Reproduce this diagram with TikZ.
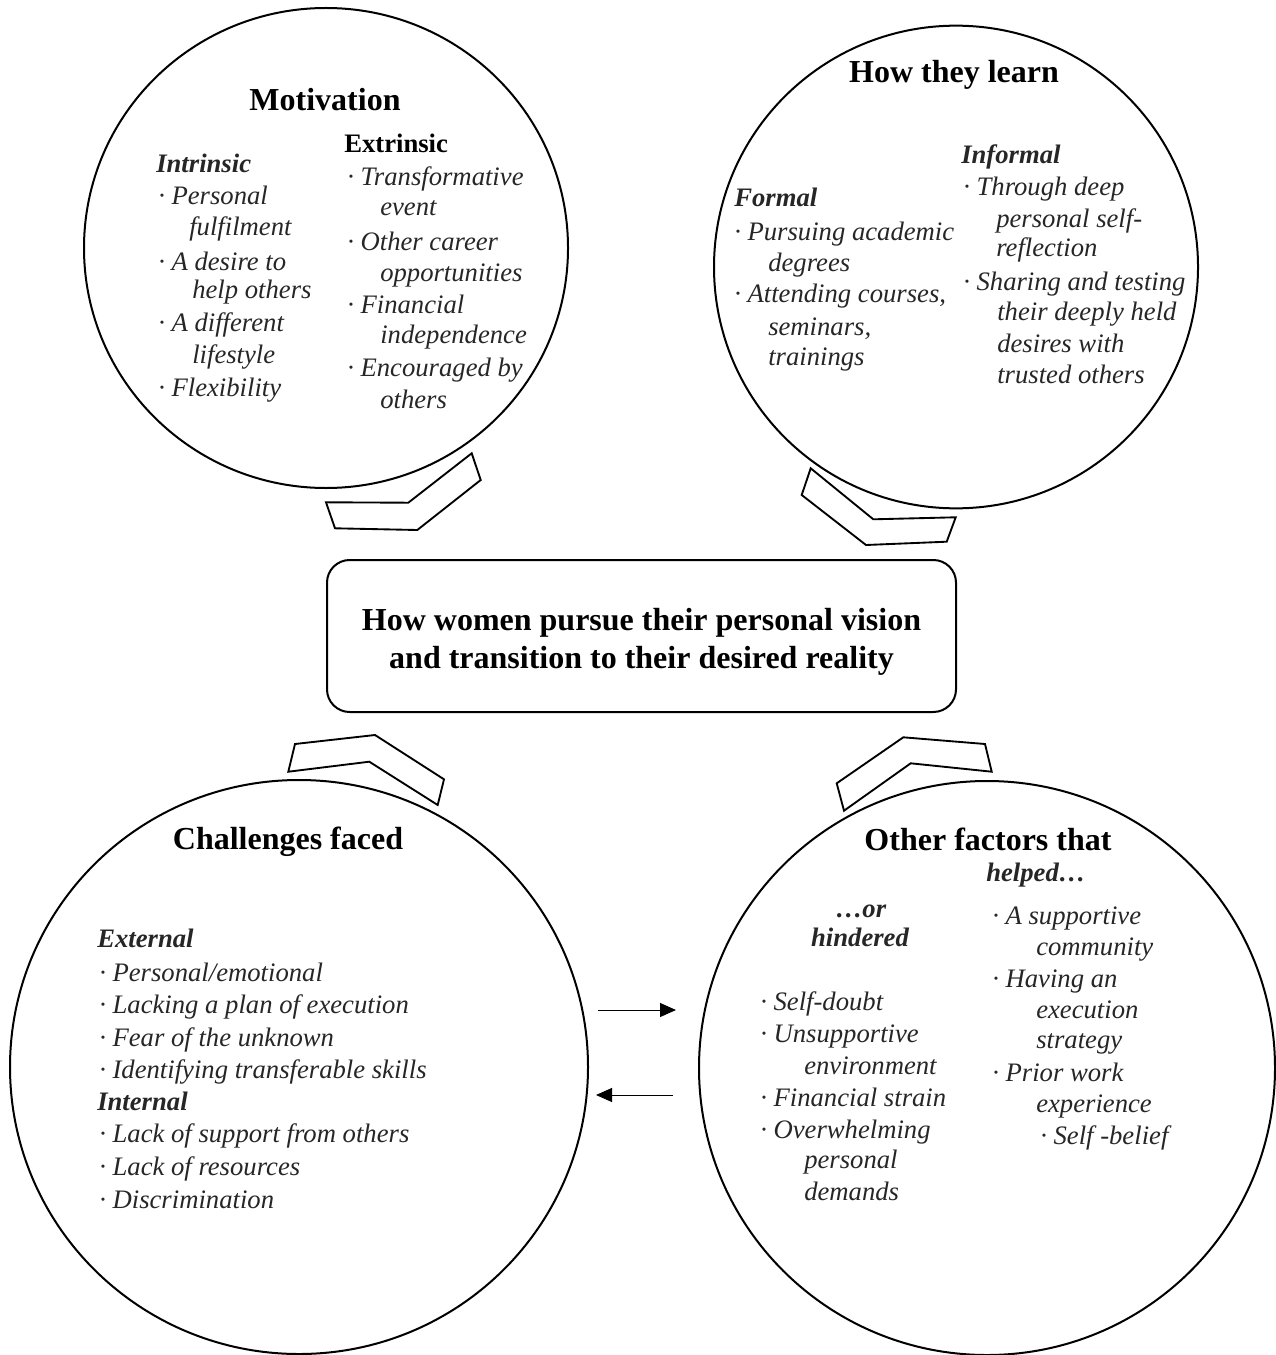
\documentclass[tikz,border=0pt]{standalone}
\usepackage{fontspec}
\setmainfont{Liberation Serif}
\usetikzlibrary{shapes.geometric,arrows.meta}
\definecolor{ink}{HTML}{262626}
\tikzset{
  bubble/.style={draw, line width=1.5pt, ellipse, inner sep=0pt},
  chevronshape/.style={draw, line width=1.4pt, line join=miter},
  heading/.style={font=\fontsize{24}{28.5}\selectfont\bfseries, anchor=base, inner sep=0pt},
  sub/.style={font=\fontsize{20}{24}\selectfont\bfseries\itshape, text=ink, anchor=base west, inner sep=0pt},
  entry/.style={font=\fontsize{20}{24}\selectfont\itshape, text=ink, anchor=base west, inner sep=0pt},
  link/.style={line width=0.75pt, -{Triangle[length=12pt,width=10.5pt]}},
}
\begin{document}
\begin{tikzpicture}[x=0.75pt,y=-0.75pt]
\useasboundingbox (0,0) rectangle (1275,1355);

% the four theme bubbles
\node[bubble, minimum width=363pt, minimum height=360pt] (mot) at (326,248) {};
\node[bubble, minimum width=363pt, minimum height=362pt] (learn) at (956,267) {};
\node[bubble, minimum width=433.5pt, minimum height=430.5pt] (chal) at (299,1067) {};
\node[bubble, minimum width=432pt, minimum height=430.5pt] (oth) at (987,1068) {};

% central statement
\node[draw, line width=1.5pt, rounded corners=17pt, minimum width=471.75pt, minimum height=114pt] (core) at (641.5,636) {};
\node[align=center, inner sep=0pt, font=\fontsize{24}{28.5}\selectfont\bfseries] (coreText) at (641.5,642)
  {How women pursue their personal vision\\and transition to their desired reality};

% chevrons linking the bubbles to the centre
\draw[chevronshape] (326,502.3) -- (408.3,502.7) -- (471.7,453.3) -- (480.7,480) -- (417.3,530) -- (335,528.3) -- cycle;
\draw[chevronshape] (810.7,468.3) -- (873.3,519.3) -- (955.7,517.3) -- (946.7,541.7) -- (866,545) -- (801.7,495) -- cycle;
\draw[chevronshape] (295,744) -- (375,735) -- (444,779.3) -- (437.7,805) -- (369.3,761.7) -- (288.3,771.7) -- cycle;
\draw[chevronshape] (903.3,737.3) -- (985,744) -- (991.7,771.7) -- (910.7,763.3) -- (844,810.7) -- (836.7,783.3) -- cycle;

% Motivation
\node[heading] (motT) at (325,111) {Motivation};
\node[sub] (motI) at (156,173) {Intrinsic};
\node[anchor=base west, inner sep=0pt, font=\fontsize{20}{24}\selectfont\bfseries] (motE) at (344,153) {Extrinsic};
\foreach \n/\xx/\yy/\t in {1/158/205/{· Personal},2/189/236/{fulfilment},3/158/270/{· A desire to},
  4/192/298/{help others},5/158/331/{· A different},6/192/363/{lifestyle},7/158/396/{· Flexibility}}
  \node[entry] (mi\n) at (\xx,\yy) {\t};
\foreach \n/\xx/\yy/\t in {1/347/186/{· Transformative},2/380/216/{event},3/347/250/{· Other career},
  4/380/281/{opportunities},5/347/313/{· Financial},6/380/343/{independence},7/347/376/{· Encouraged by},8/380/408/{others}}
  \node[entry] (me\n) at (\xx,\yy) {\t};

% How they learn
\node[heading] (lrnT) at (954,83) {How they learn};
\node[sub] (lrnF) at (734,207) {Formal};
\node[sub] (lrnI) at (961,164) {Informal};
\foreach \n/\xx/\yy/\t in {1/734/240/{· Pursuing academic},2/768/272/{degrees},3/734/302/{· Attending courses,},
  4/768/335/{seminars,},5/768/365/{trainings}}
  \node[entry] (lf\n) at (\xx,\yy) {\t};
\foreach \n/\xx/\yy/\t in {1/963/196/{· Through deep},2/996/228/{personal self-},3/996/257/{reflection},
  4/963/290/{· Sharing and testing},5/997/320/{their deeply held},6/997/352/{desires with},7/997/383/{trusted others}}
  \node[entry] (li\n) at (\xx,\yy) {\t};

% Challenges faced
\node[heading] (chT) at (288,849) {Challenges faced};
\node[sub] (chE) at (97,947) {External};
\node[sub] (chI) at (97,1110) {Internal};
\foreach \n/\yy/\t in {1/981/{· Personal/emotional},2/1013/{· Lacking a plan of execution},
  3/1046/{· Fear of the unknown},4/1078/{· Identifying transferable skills}}
  \node[entry] (ce\n) at (99,\yy) {\t};
\foreach \n/\yy/\t in {1/1142/{· Lack of support from others},2/1175/{· Lack of resources},3/1208/{· Discrimination}}
  \node[entry] (ci\n) at (99,\yy) {\t};

% Other factors
\node[heading] (otT) at (988,850) {Other factors that};
\node[sub] (otH) at (986,881) {helped…};
\node[sub, anchor=base] (otO) at (861,917) {…or};
\node[sub, anchor=base] (otN) at (860,946) {hindered};
\foreach \n/\xx/\yy/\t in {1/760/1010/{· Self-doubt},2/760/1042/{· Unsupportive},3/804/1074/{environment},
  4/760/1106/{· Financial strain},5/760/1138/{· Overwhelming},6/804/1168/{personal},7/804/1200/{demands}}
  \node[entry] (oh\n) at (\xx,\yy) {\t};
\foreach \n/\xx/\yy/\t in {1/992/924/{· A supportive},2/1036/955/{community},3/992/987/{· Having an},
  4/1036/1018/{execution},5/1036/1048/{strategy},6/992/1081/{· Prior work},7/1036/1112/{experience},8/1040/1144/{· Self -belief}}
  \node[entry] (op\n) at (\xx,\yy) {\t};

% exchange between challenges and other factors
\coordinate (toR1) at (598,1010);
\coordinate (toR2) at (676,1010);
\coordinate (toL1) at (673,1095);
\coordinate (toL2) at (596,1095);
\draw[link] (toR1) -- (toR2);
\draw[link] (toL1) -- (toL2);
\end{tikzpicture}
\end{document}
